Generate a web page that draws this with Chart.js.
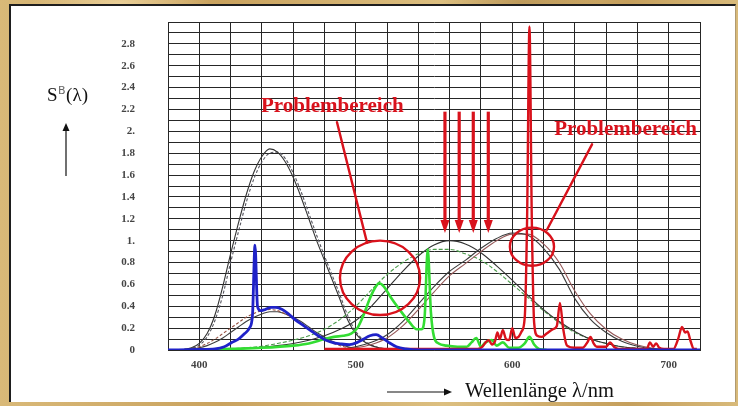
<!DOCTYPE html>
<html>
<head>
<meta charset="utf-8">
<script src="https://cdn.jsdelivr.net/npm/chart.js@4.4.1/dist/chart.umd.min.js"></script>
<style>
  html, body { margin: 0; padding: 0; }
  body {
    width: 738px; height: 406px; overflow: hidden; position: relative;
    background:
      radial-gradient(ellipse 90px 20px at 120px 3px, rgba(255, 236, 190, 0.55), transparent),
      radial-gradient(ellipse 80px 18px at 520px 2px, rgba(150, 110, 50, 0.35), transparent),
      linear-gradient(90deg, #d9b978, #c9a25e 30%, #dcbf80 60%, #c59f5c 85%, #d8ba7a);
  }
  #panel {
    position: absolute; left: 9px; top: 4px; width: 724px; height: 396px;
    background: #fff;
    border-left: 2px solid #1e1e1e; border-top: 2px solid #1e1e1e;
    border-right: 1px solid #b09a70;
  }
  #chart { position: absolute; left: 0; top: 0; }
</style>
</head>
<body>
<div id="panel"></div>
<canvas id="chart" width="738" height="406"></canvas>
<script>
// axis ticks
const xLabelValues = [400, 500, 600, 700]
const yLabels = ['0', '0.2', '0.4', '0.6', '0.8', '1.', '1.2', '1.4', '1.6', '1.8', '2.', '2.2', '2.4', '2.6', '2.8']

// spectrum, blue part
const blueWl = [380, 400, 410, 416, 421, 425, 429, 432, 434, 435.6, 437.2, 439, 442, 446, 449, 453, 457, 461, 466, 471,
  476, 481, 486, 491, 496, 501, 505, 509, 513, 517, 521, 526, 532, 540, 720]
const blueVal = [0, 0.005, 0.01, 0.03, 0.07, 0.1, 0.15, 0.2, 0.32, 0.96, 0.4, 0.36, 0.37, 0.39, 0.39, 0.37, 0.33, 0.28, 0.23, 0.18,
  0.13, 0.09, 0.065, 0.055, 0.05, 0.07, 0.1, 0.13, 0.14, 0.11, 0.07, 0.03, 0.01, 0, 0]

// spectrum, green part
const greenWl = [400, 420, 440, 460, 470, 480, 486, 492, 497, 501, 505, 509, 512, 515, 518, 522, 528, 534, 539, 542,
  544, 546, 548, 550, 553, 558, 565, 571, 574, 577, 580, 583, 587, 590, 594, 598, 604, 608, 611, 614, 617, 622]
const greenVal = [0, 0.01, 0.02, 0.04, 0.06, 0.1, 0.12, 0.13, 0.15, 0.2, 0.32, 0.47, 0.56, 0.61, 0.58, 0.49, 0.37, 0.26, 0.19, 0.19,
  0.3, 0.92, 0.35, 0.12, 0.06, 0.04, 0.03, 0.03, 0.07, 0.11, 0.03, 0.07, 0.09, 0.04, 0.07, 0.02, 0.02, 0.06, 0.12, 0.05, 0.01, 0]

// spectrum, red part
const redWl = [480, 520, 560, 578, 581, 583, 585, 587, 589, 590.5, 592, 594, 596, 598, 600, 602, 604, 606, 608, 609.5,
  611, 612.5, 614, 616, 619, 622, 626, 628.5, 630.5, 632.5, 635, 640, 645, 648, 650, 652, 654, 660, 662.5, 665,
  668, 680, 686, 688, 690, 692, 694, 697, 703, 706, 708.5, 710.5, 712, 714, 716, 718]
const redVal = [0.01, 0.01, 0.01, 0.01, 0.03, 0.07, 0.09, 0.05, 0.08, 0.16, 0.1, 0.18, 0.1, 0.09, 0.2, 0.11, 0.12, 0.17, 0.3, 1.2,
  2.96, 1.2, 0.25, 0.13, 0.12, 0.15, 0.19, 0.22, 0.43, 0.2, 0.04, 0.02, 0.02, 0.07, 0.12, 0.06, 0.03, 0.03, 0.07, 0.03,
  0.01, 0.01, 0.01, 0.07, 0.03, 0.06, 0.02, 0.01, 0.01, 0.1, 0.21, 0.16, 0.17, 0.08, 0.01, 0.01]

// sensitivity curves (two traces each)
const zWl = [380, 385, 390, 395, 400, 405, 410, 415, 420, 425, 430, 435, 440, 445, 450, 455, 460, 465, 470, 475,
  480, 485, 490, 495, 500, 505, 510, 515, 520, 525, 530, 535, 540]
const zA = [0, 0, 0.005, 0.02, 0.06, 0.15, 0.32, 0.58, 0.88, 1.16, 1.42, 1.63, 1.77, 1.84, 1.81, 1.72, 1.58, 1.40, 1.20, 1.00,
  0.82, 0.64, 0.46, 0.27, 0.15, 0.08, 0.04, 0.02, 0.01, 0.005, 0, 0, 0]
const zB = [0, 0, 0.003, 0.015, 0.045, 0.12, 0.27, 0.5, 0.8, 1.08, 1.35, 1.57, 1.72, 1.80, 1.81, 1.75, 1.62, 1.45, 1.25, 1.05,
  0.86, 0.68, 0.5, 0.31, 0.17, 0.09, 0.045, 0.02, 0.01, 0.005, 0, 0, 0]

const yWl = [400, 410, 420, 430, 440, 450, 460, 470, 480, 490, 500, 510, 520, 530, 540, 550, 560, 570, 580, 590,
  600, 610, 620, 630, 640, 650, 660, 670, 680, 690, 700]
const yA = [0, 0.005, 0.01, 0.015, 0.025, 0.04, 0.06, 0.09, 0.13, 0.19, 0.27, 0.4, 0.56, 0.72, 0.86, 0.96, 1.0, 0.97, 0.89, 0.77,
  0.64, 0.5, 0.37, 0.26, 0.17, 0.1, 0.06, 0.03, 0.015, 0.005, 0]
const yB = [0, 0.005, 0.01, 0.02, 0.035, 0.06, 0.09, 0.13, 0.19, 0.28, 0.4, 0.55, 0.69, 0.8, 0.88, 0.92, 0.92, 0.88, 0.82, 0.72,
  0.6, 0.48, 0.36, 0.25, 0.16, 0.1, 0.06, 0.03, 0.015, 0.005, 0]

const xWl = [480, 490, 500, 510, 520, 530, 540, 550, 560, 570, 580, 590, 600, 610, 620, 630, 640, 650, 660, 670,
  680, 690, 700, 710, 720]
const xA = [0, 0.01, 0.03, 0.07, 0.14, 0.26, 0.42, 0.58, 0.72, 0.82, 0.93, 1.02, 1.07, 1.05, 0.93, 0.74, 0.47, 0.28, 0.16, 0.08,
  0.035, 0.01, 0, 0, 0]
const xB = [0, 0.005, 0.02, 0.05, 0.11, 0.22, 0.37, 0.53, 0.68, 0.79, 0.9, 1.0, 1.06, 1.06, 0.97, 0.8, 0.54, 0.33, 0.19, 0.1,
  0.045, 0.015, 0.005, 0, 0]

const dWl = [380, 385, 390, 395, 400, 405, 410, 415, 420, 425, 430, 435, 440, 445, 450, 455, 460, 465, 470, 475,
  480, 485, 490, 495, 500, 505, 510, 515, 520]
const dA = [0, 0, 0.005, 0.015, 0.03, 0.06, 0.1, 0.15, 0.2, 0.25, 0.3, 0.335, 0.36, 0.37, 0.36, 0.33, 0.29, 0.24, 0.19, 0.14,
  0.1, 0.065, 0.04, 0.02, 0.01, 0.004, 0, 0, 0]
const dB = [0, 0, 0.003, 0.01, 0.02, 0.04, 0.07, 0.11, 0.16, 0.21, 0.26, 0.3, 0.33, 0.35, 0.35, 0.33, 0.3, 0.26, 0.21, 0.16,
  0.12, 0.08, 0.05, 0.03, 0.015, 0.006, 0.002, 0, 0]

// annotations, in axis units (nm / S)
const circles = [[515.5, 0.66, 25.6, 0.34], [612.6, 0.945, 14.1, 0.174]]
const pointers = [[488, 2.083, 507.2, 0.982], [651, 1.881, 622.2, 1.10]]
const problemLabels = [[485, 2.175], [672.4, 1.97]]
const arrowWl = [557, 566.1, 575.1, 584.7]
const arrowFrom = 2.18, arrowTo = 1.07

const RED = '#d9121c'
const SERIF = '"Liberation Serif", "DejaVu Serif", serif'

const pts = (wl, val) => wl.map((x, i) => ({ x, y: val[i] }))

const line = (label, wl, val, color, width, dash) => ({
  label,
  data: pts(wl, val),
  borderColor: color,
  borderWidth: width,
  borderDash: dash || [],
  pointRadius: 0,
  fill: false,
  cubicInterpolationMode: 'monotone'
})

const annotations = {
  id: 'annotations',
  afterDatasetsDraw(chart) {
    const { ctx, scales: { x, y } } = chart
    ctx.save()
    ctx.strokeStyle = RED
    ctx.fillStyle = RED
    ctx.lineCap = 'round'

    ctx.lineWidth = 2.4
    circles.forEach(([cx, cy, rx, ry]) => {
      const px = x.getPixelForValue(cx)
      const py = y.getPixelForValue(cy)
      ctx.beginPath()
      ctx.ellipse(px, py, x.getPixelForValue(cx + rx) - px, py - y.getPixelForValue(cy + ry), 0, 0, Math.PI * 2)
      ctx.stroke()
    })

    pointers.forEach(([x1, y1, x2, y2]) => {
      ctx.beginPath()
      ctx.moveTo(x.getPixelForValue(x1), y.getPixelForValue(y1))
      ctx.lineTo(x.getPixelForValue(x2), y.getPixelForValue(y2))
      ctx.stroke()
    })

    ctx.lineWidth = 3.2
    ctx.lineCap = 'butt'
    arrowWl.forEach(wl => {
      const px = x.getPixelForValue(wl)
      const top = y.getPixelForValue(arrowFrom)
      const tip = y.getPixelForValue(arrowTo)
      ctx.beginPath()
      ctx.moveTo(px, top)
      ctx.lineTo(px, tip - 10)
      ctx.stroke()
      ctx.beginPath()
      ctx.moveTo(px - 4.5, tip - 13)
      ctx.lineTo(px + 4.5, tip - 13)
      ctx.lineTo(px, tip)
      ctx.closePath()
      ctx.fill()
    })

    ctx.font = 'bold 21px ' + SERIF
    ctx.textAlign = 'center'
    ctx.textBaseline = 'alphabetic'
    problemLabels.forEach(([lx, ly]) => {
      ctx.fillText('Problembereich', x.getPixelForValue(lx), y.getPixelForValue(ly))
    })
    ctx.restore()
  },
  afterDraw(chart) {
    const { ctx } = chart
    ctx.save()
    ctx.fillStyle = '#111'
    ctx.strokeStyle = '#111'
    ctx.textBaseline = 'alphabetic'
    ctx.textAlign = 'left'

    // y title S^B(λ)
    ctx.font = '19px ' + SERIF
    ctx.fillText('S', 47, 101)
    const w = ctx.measureText('S').width
    ctx.font = '11px "DejaVu Sans", sans-serif'
    ctx.fillStyle = '#666'
    ctx.fillText('B', 47 + w + 0.5, 94)
    const wb = ctx.measureText('B').width
    ctx.fillStyle = '#111'
    ctx.font = '19px ' + SERIF
    ctx.fillText('(λ)', 47 + w + wb + 1, 101)

    ctx.lineWidth = 1.2
    ctx.beginPath()
    ctx.moveTo(66, 176)
    ctx.lineTo(66, 130)
    ctx.stroke()
    ctx.beginPath()
    ctx.moveTo(62.5, 131)
    ctx.lineTo(69.5, 131)
    ctx.lineTo(66, 123)
    ctx.closePath()
    ctx.fill()

    // x title
    ctx.font = '20.5px ' + SERIF
    ctx.fillText('Wellenlänge λ/nm', 465, 397)
    ctx.beginPath()
    ctx.moveTo(387, 392)
    ctx.lineTo(445, 392)
    ctx.stroke()
    ctx.beginPath()
    ctx.moveTo(444, 388.5)
    ctx.lineTo(444, 395.5)
    ctx.lineTo(452, 392)
    ctx.closePath()
    ctx.fill()
    ctx.restore()
  }
}

const gridColor = '#262626'
const tickFont = { family: SERIF, size: 11, weight: 'bold' }

new Chart(document.getElementById('chart'), {
  type: 'line',
  data: {
    datasets: [
      line('blau', blueWl, blueVal, '#1f22c8', 2.8),
      line('rot', redWl, redVal, RED, 2.4),
      line('grün', greenWl, greenVal, '#33dd33', 2.6),
      line('x1', xWl, xA, '#3c3c3c', 1.1),
      line('x2', xWl, xB, '#955858', 1.1),
      line('y1', yWl, yA, '#333', 1.1),
      line('y2', yWl, yB, '#4a9a4a', 1.1, [4, 2]),
      line('z1', zWl, zA, '#333', 1.1),
      line('z2', zWl, zB, '#55555f', 1.1, [3, 2]),
      line('d1', dWl, dA, '#955040', 1.1, [3, 2]),
      line('d2', dWl, dB, '#404040', 1.1)
    ]
  },
  options: {
    responsive: false,
    animation: false,
    layout: { padding: { left: 0, top: 22, right: 38, bottom: 0 } },
    plugins: {
      legend: { display: false },
      tooltip: { enabled: false }
    },
    scales: {
      x: {
        type: 'linear',
        min: 380,
        max: 720,
        grid: { color: gridColor, lineWidth: 1, drawTicks: false },
        border: { color: gridColor },
        ticks: {
          stepSize: 20,
          autoSkip: false,
          maxRotation: 0,
          padding: 9,
          color: '#444',
          font: tickFont,
          callback: (value) => xLabelValues.includes(value) ? String(value) : ''
        },
        afterFit: (scale) => { scale.height = 56 }
      },
      y: {
        min: 0,
        max: 3,
        grid: { color: gridColor, lineWidth: 1, drawTicks: false },
        border: { color: gridColor },
        ticks: {
          stepSize: 0.1,
          autoSkip: false,
          padding: 33,
          color: '#444',
          font: tickFont,
          callback: (value, index) => index % 2 === 0 ? (yLabels[index / 2] || '') : ''
        },
        afterFit: (scale) => {
          scale.width = 168
          scale.paddingTop = 0
          scale.paddingBottom = 0
        }
      }
    }
  },
  plugins: [annotations]
})
</script>
</body>
</html>
